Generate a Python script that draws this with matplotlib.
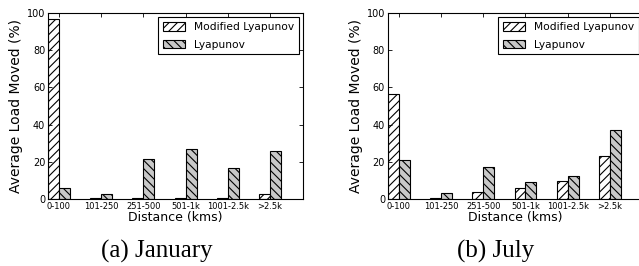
import numpy as np
import matplotlib
matplotlib.use("Agg")
import matplotlib.pyplot as plt

plt.rcParams['hatch.linewidth'] = 0.8

categories = ["0-100", "101-250", "251-500", "501-1k", "1001-2.5k", ">2.5k"]
series_names = ["Modified Lyapunov", "Lyapunov"]

# January
jan_modified = [97, 0.3, 0.3, 0.3, 0.5, 2.5]
jan_lyapunov = [6, 2.5, 21.5, 27, 16.5, 26]
# July
jul_modified = [56.5, 0.5, 4, 6, 9.5, 23]
jul_lyapunov = [21, 3, 17, 9, 12.5, 37]

captions = ["(a) January", "(b) July"]

fig = plt.figure(figsize=(6.39, 2.66), dpi=100)
ax1 = fig.add_axes([0.075, 0.252, 0.399, 0.699])
ax2 = fig.add_axes([0.607, 0.252, 0.399, 0.699])

w = 0.26
x = np.arange(len(categories))

for ax, mod, lya, cap, cx in [(ax1, jan_modified, jan_lyapunov, captions[0], 0.246),
                              (ax2, jul_modified, jul_lyapunov, captions[1], 0.775)]:
    ax.bar(x, mod, width=w, align='edge', facecolor='white', edgecolor='black',
           hatch='////', linewidth=0.8, label=series_names[0])
    ax.bar(x + w, lya, width=w, align='edge', facecolor='#c8c8c8', edgecolor='black',
           hatch='\\\\\\\\', linewidth=0.8, label=series_names[1])
    ax.set_xlim(0, 6.04)
    ax.set_ylim(0, 100)
    ax.set_yticks([0, 20, 40, 60, 80, 100])
    ax.set_xticks(x + w)
    ax.set_xticklabels(categories, fontsize=6)
    ax.tick_params(axis='y', labelsize=7)
    ax.tick_params(direction='in', top=True, right=True, length=3, width=0.6, pad=2)
    ax.set_ylabel("Average Load Moved (%)", fontsize=10, labelpad=3)
    ax.set_xlabel("Distance (kms)", fontsize=9, labelpad=0)
    leg = ax.legend(loc='upper right', fontsize=7.7, fancybox=False, framealpha=1,
                    edgecolor='black', handlelength=2.05, handleheight=0.85,
                    borderaxespad=0.4, borderpad=0.45, labelspacing=0.7)
    leg.get_frame().set_linewidth(0.8)
    for s in ax.spines.values():
        s.set_linewidth(0.8)
    fig.text(cx, 0.056, cap, ha='center', va='center', fontsize=18,
             family='Liberation Serif')

fig.savefig("out.png", dpi=100)
